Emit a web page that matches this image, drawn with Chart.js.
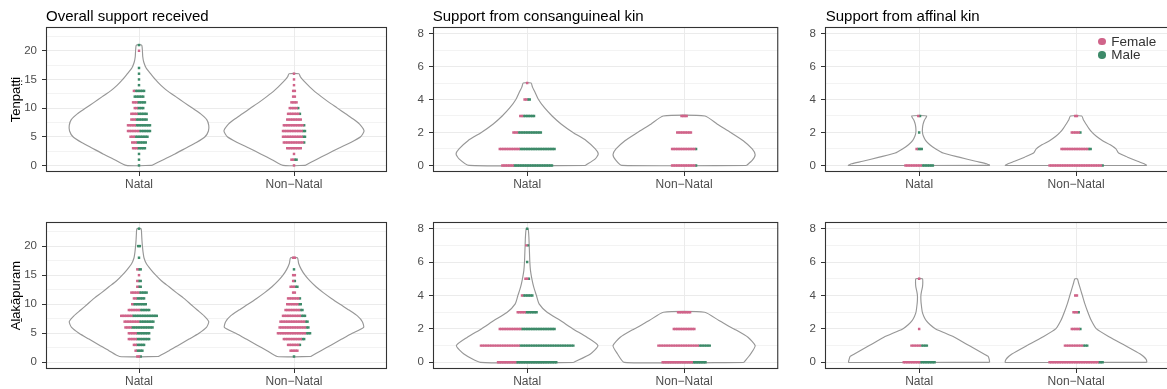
<!DOCTYPE html>
<html>
<head>
<meta charset="utf-8">
<script src="https://cdn.jsdelivr.net/npm/chart.js@4.4.1/dist/chart.umd.min.js"></script>
<style>
  html, body { margin: 0; padding: 0; background: #fff; overflow: hidden; }
  body { width: 1167px; height: 389px; position: relative; font-family: "Liberation Sans", Arial, Helvetica, sans-serif; }
  .panel { position: absolute; }
  .title { position: absolute; font-size: 15px; line-height: 17px; color: #000; white-space: nowrap; }
  .ylab { position: absolute; width: 160px; height: 15px; line-height: 15px; font-size: 13px; color: #000;
          text-align: center; white-space: nowrap; transform: rotate(-90deg); }
  .key { position: absolute; display: flex; align-items: center; font-size: 13.5px; line-height: 14px; color: #333; white-space: nowrap; }
  .key i { display: inline-block; width: 7.5px; height: 7.5px; border-radius: 50%; margin-right: 5.5px; }
</style>
</head>
<body>
<script>
const categories = ["Natal", "Non\u2212Natal"];
const rowNames = ["Tenpa\u1e6d\u1e6di", "A\u1e3bak\u0101puram"];
const panelTitles = ["Overall support received", "Support from consanguineal kin", "Support from affinal kin"];
const sexes = ["Female", "Male"];

// y tick labels and grid positions
const overallTicks = [0, 5, 10, 15, 20];
const overallGrid = [0, 2.5, 5, 7.5, 10, 12.5, 15, 17.5, 20, 22.5];
const kinTicks = [0, 2, 4, 6, 8];
const kinGrid = [0, 1, 2, 3, 4, 5, 6, 7, 8];

// number of people per support value (index = value), female / male
const tenOverallNatalF = [0, 0, 0, 3, 3, 3, 7, 5, 3, 4, 2, 3, 0, 1, 0, 0, 0, 0, 0, 0, 1, 0];
const tenOverallNatalM = [1, 1, 1, 5, 6, 8, 7, 9, 7, 6, 4, 5, 6, 6, 1, 1, 1, 1, 0, 0, 0, 1];
const tenOverallNonF = [1, 2, 1, 9, 12, 12, 12, 12, 9, 7, 5, 4, 2, 2, 1, 1, 1];
const tenOverallNonM = [0, 2, 0, 0, 1, 2, 2, 1, 0, 1, 1, 0, 0, 0, 0, 0, 0];
const alaOverallNatalF = [0, 2, 1, 2, 5, 5, 4, 9, 7, 7, 1, 2, 5, 1, 1, 1, 1, 0, 0, 0, 0, 0, 0, 0];
const alaOverallNatalM = [0, 1, 4, 5, 8, 8, 13, 9, 15, 6, 8, 5, 5, 2, 2, 0, 2, 0, 1, 0, 2, 0, 0, 1];
const alaOverallNonF = [0, 0, 5, 7, 11, 17, 16, 15, 11, 9, 7, 7, 2, 3, 1, 2, 0, 0, 2];
const alaOverallNonM = [0, 1, 0, 1, 2, 3, 2, 2, 3, 2, 2, 1, 0, 2, 1, 0, 1, 0, 0];

const tenConsNatalF = [7, 12, 3, 2, 2, 1];
const tenConsNatalM = [23, 21, 14, 7, 2, 0];
const tenConsNonF = [14, 14, 9, 4];
const tenConsNonM = [1, 1, 0, 0];
const alaConsNatalF = [11, 23, 13, 5, 1, 2, 0, 1, 0];
const alaConsNatalM = [24, 32, 20, 7, 6, 1, 1, 1, 1];
const alaConsNonF = [18, 24, 13, 8];
const alaConsNonM = [8, 7, 0, 0];

const tenAffNatalF = [10, 1, 0, 1];
const tenAffNatalM = [7, 3, 1, 1];
const tenAffNonF = [31, 16, 5, 2];
const tenAffNonM = [1, 2, 1, 0];
const alaAffNatalF = [10, 6, 1, 0, 0, 1];
const alaAffNatalM = [9, 4, 0, 0, 0, 0];
const alaAffNonF = [29, 11, 5, 3, 2];
const alaAffNonM = [3, 3, 1, 1, 0];

// violin outlines: [value, half width]
const tenOverallNatalViolin = [[0,0.082],[1,0.157],[2,0.232],[3,0.301],[4,0.37],[5,0.426],[6,0.448],[7,0.45],[8,0.437],[9,0.398],[10,0.344],[11,0.29],[12,0.237],[13,0.183],[14,0.14],[15,0.105],[16,0.075],[17,0.046],[18,0.031],[19,0.024],[20,0.022],[21,0.017]];
const tenOverallNonViolin = [[0,0.071],[1,0.142],[2,0.215],[3,0.288],[4,0.366],[5,0.43],[6,0.452],[7,0.43],[8,0.387],[9,0.333],[10,0.28],[11,0.226],[12,0.176],[13,0.129],[14,0.09],[15,0.054],[15.5,0.04],[16,0.032]];
const alaOverallNatalViolin = [[1,0.125],[2,0.194],[3,0.258],[4,0.323],[5,0.387],[6,0.435],[7,0.45],[8,0.42],[9,0.376],[10,0.333],[11,0.29],[12,0.241],[13,0.194],[14,0.146],[15,0.108],[16,0.075],[17,0.047],[18,0.032],[19,0.026],[20,0.022],[21,0.019],[22,0.017],[23,0.013]];
const alaOverallNonViolin = [[1,0.108],[2,0.174],[3,0.241],[4,0.308],[5,0.376],[6,0.449],[7,0.441],[8,0.409],[9,0.355],[10,0.297],[11,0.241],[12,0.189],[13,0.142],[14,0.103],[15,0.071],[16,0.047],[17,0.03],[18,0.022]];
const tenConsNatalViolin = [[0,0.371],[0.4,0.434],[0.7,0.453],[1,0.434],[1.5,0.377],[2,0.292],[2.5,0.218],[3,0.159],[3.5,0.11],[4,0.072],[4.5,0.047],[4.75,0.034],[5,0.025]];
const tenConsNonViolin = [[0,0.398],[0.3,0.434],[0.65,0.453],[1,0.434],[1.5,0.377],[2,0.297],[2.5,0.212],[3,0.133]];
const alaConsNatalViolin = [[0,0.297],[0.5,0.403],[1,0.451],[1.5,0.381],[2,0.292],[2.5,0.212],[3,0.127],[3.5,0.076],[4,0.059],[4.5,0.042],[5,0.03],[5.5,0.021],[6,0.017],[6.5,0.015],[7,0.013],[7.5,0.011],[8,0.006]];
const alaConsNonViolin = [[0,0.381],[0.5,0.424],[1,0.453],[1.5,0.407],[2,0.318],[2.5,0.222],[3,0.131]];
const tenAffNatalViolin = [[0,0.451],[0.1,0.43],[0.25,0.36],[0.5,0.254],[0.75,0.153],[1,0.106],[1.25,0.068],[1.5,0.042],[1.75,0.028],[2,0.021],[2.25,0.021],[2.5,0.025],[2.75,0.034],[3,0.047]];
const tenAffNonViolin = [[0,0.451],[0.1,0.434],[0.25,0.392],[0.5,0.328],[0.75,0.271],[1,0.254],[1.25,0.218],[1.5,0.169],[1.75,0.131],[2,0.102],[2.25,0.081],[2.5,0.064],[2.75,0.047],[3,0.036]];
const alaAffNatalViolin = [[0,0.449],[0.15,0.447],[0.35,0.44],[0.5,0.413],[1,0.318],[1.5,0.225],[2,0.105],[2.25,0.07],[2.5,0.045],[2.75,0.03],[3,0.02],[3.5,0.013],[3.75,0.011],[4,0.011],[4.25,0.015],[4.5,0.021],[4.75,0.023],[5,0.021]];
const alaAffNonViolin = [[0,0.451],[0.15,0.448],[0.35,0.43],[0.5,0.409],[1,0.314],[1.5,0.216],[2,0.13],[2.5,0.097],[3,0.075],[3.5,0.056],[4,0.04],[4.5,0.024],[4.75,0.016],[5,0.008]];

const FONT = '"Liberation Sans", Arial, Helvetica, sans-serif';
const FEMALE = "#D0648A";
const MALE = "#3D8A69";
const DOT = 0.0109; // one dot, in category units

// page geometry (canvas box and plot box of each column/row)
const colCanvas = [[0, 390], [390, 390], [780, 392]];
const colPlot = [[46, 387], [433, 779], [825, 1172]];
const rowCanvas = [[0, 195], [195, 194]];
const rowPlot = [[27, 172], [222, 369]];

const panels = [
  { row: 0, col: 0, natal: [tenOverallNatalF, tenOverallNatalM, tenOverallNatalViolin], non: [tenOverallNonF, tenOverallNonM, tenOverallNonViolin] },
  { row: 0, col: 1, natal: [tenConsNatalF, tenConsNatalM, tenConsNatalViolin], non: [tenConsNonF, tenConsNonM, tenConsNonViolin] },
  { row: 0, col: 2, natal: [tenAffNatalF, tenAffNatalM, tenAffNatalViolin], non: [tenAffNonF, tenAffNonM, tenAffNonViolin] },
  { row: 1, col: 0, natal: [alaOverallNatalF, alaOverallNatalM, alaOverallNatalViolin], non: [alaOverallNonF, alaOverallNonM, alaOverallNonViolin] },
  { row: 1, col: 1, natal: [alaConsNatalF, alaConsNatalM, alaConsNatalViolin], non: [alaConsNonF, alaConsNonM, alaConsNonViolin] },
  { row: 1, col: 2, natal: [alaAffNatalF, alaAffNatalM, alaAffNatalViolin], non: [alaAffNonF, alaAffNonM, alaAffNonViolin] },
];

// dotplot rows: centred on the category, females first then males
function stackRows(center, female, male) {
  const f = [], m = [];
  for (let v = 0; v < Math.max(female.length, male.length); v++) {
    const nf = female[v] || 0, nm = male[v] || 0, tot = nf + nm;
    for (let i = 0; i < tot; i++) {
      const pt = { x: center + (i - (tot - 1) / 2) * DOT, y: v };
      (i < nf ? f : m).push(pt);
    }
  }
  return { f, m };
}

function outline(center, shape) {
  const right = shape.map(([y, w]) => ({ x: center + w, y }));
  const left = shape.slice().reverse().map(([y, w]) => ({ x: center - w, y }));
  return right.concat(left, [right[0]]);
}

const violinFill = {
  id: "violinFill",
  beforeDatasetsDraw(chart) {
    const ctx = chart.ctx;
    chart.data.datasets.forEach((ds, i) => {
      if (!ds.violin) return;
      const pts = chart.getDatasetMeta(i).data;
      ctx.save();
      ctx.beginPath();
      pts.forEach((p, k) => (k ? ctx.lineTo(p.x, p.y) : ctx.moveTo(p.x, p.y)));
      ctx.closePath();
      ctx.fillStyle = "#fff";
      ctx.fill();
      ctx.restore();
    });
  },
};

const panelBorder = {
  id: "panelBorder",
  afterDatasetsDraw(chart) {
    const { ctx, chartArea: a } = chart;
    ctx.save();
    ctx.strokeStyle = "#333";
    ctx.lineWidth = 1.1;
    ctx.strokeRect(a.left + 0.5, a.top + 0.5, a.right - a.left - 1, a.bottom - a.top - 1);
    ctx.restore();
  },
};

function makePanel(p) {
  const [cl, cw] = colCanvas[p.col];
  const [ct, ch] = rowCanvas[p.row];
  const [pl, pr] = colPlot[p.col];
  const [pt, pb] = rowPlot[p.row];
  const overall = p.col === 0;
  const grid = overall ? overallGrid : kinGrid;
  const labelled = overall ? overallTicks : kinTicks;
  const yMin = overall ? -1.15 : -0.4;
  const yMax = overall ? 24.15 : 8.4;

  const box = document.createElement("div");
  box.className = "panel";
  box.style.left = cl + "px";
  box.style.top = ct + "px";
  const canvas = document.createElement("canvas");
  canvas.width = cw;
  canvas.height = ch;
  canvas.style.width = cw + "px";
  canvas.style.height = ch + "px";
  box.appendChild(canvas);
  document.body.appendChild(box);

  const a = stackRows(1, p.natal[0], p.natal[1]);
  const b = stackRows(2, p.non[0], p.non[1]);
  // square dots overlap into solid strips, as the stacked dots do in the reference
  const dots = (data, color) => ({
    data, pointStyle: "rect", pointRadius: 1.75, pointHoverRadius: 0, pointBorderWidth: 0,
    pointBackgroundColor: color, backgroundColor: color, order: 0,
  });
  const violin = (data) => ({
    data, violin: true, showLine: true, borderColor: "#979797", borderWidth: 1.15,
    pointRadius: 0, pointHoverRadius: 0, fill: false, tension: 0.2, order: 1,
  });

  new Chart(canvas, {
    type: "scatter",
    data: {
      datasets: [
        dots(a.f, FEMALE), dots(a.m, MALE), dots(b.f, FEMALE), dots(b.m, MALE),
        violin(outline(1, p.natal[2])), violin(outline(2, p.non[2])),
      ],
    },
    options: {
      responsive: false,
      animation: false,
      events: [],
      layout: { padding: { left: 0, top: pt - ct, right: cl + cw - pr, bottom: 0 } },
      plugins: { legend: { display: false }, tooltip: { enabled: false } },
      scales: {
        x: {
          type: "linear", min: 0.4, max: 2.6,
          afterBuildTicks: (s) => { s.ticks = [{ value: 1 }, { value: 2 }]; },
          afterFit: (s) => { s.height = ct + ch - pb; s.paddingLeft = 0; s.paddingRight = 0; },
          ticks: { callback: (v, i) => categories[i], color: "#4D4D4D", font: { family: FONT, size: 12 },
                   padding: 1, autoSkip: false, maxRotation: 0 },
          grid: { color: "#EBEBEB", lineWidth: 1, tickColor: "#333", tickLength: 4, tickWidth: 1 },
          border: { display: false },
        },
        y: {
          type: "linear", min: yMin, max: yMax,
          afterBuildTicks: (s) => { s.ticks = grid.map((v) => ({ value: v })); },
          afterFit: (s) => { s.width = pl - cl; s.paddingTop = 0; s.paddingBottom = 0; },
          ticks: { callback: (v) => (labelled.includes(v) ? String(v) : ""), color: "#4D4D4D",
                   font: { family: FONT, size: 11.5 }, padding: 5, autoSkip: false },
          grid: {
            color: "#EBEBEB",
            lineWidth: (c) => (c.tick && labelled.includes(c.tick.value) ? 1 : 0.6),
            tickColor: (c) => (c.tick && labelled.includes(c.tick.value) ? "#333" : "rgba(0,0,0,0)"),
            tickLength: 4, tickWidth: 1,
          },
          border: { display: false },
        },
      },
    },
    plugins: [violinFill, panelBorder],
  });
}

panels.forEach(makePanel);

// panel titles above the top row
panelTitles.forEach((t, i) => {
  const d = document.createElement("div");
  d.className = "title";
  d.textContent = t;
  d.style.left = [46, 432.7, 825.7][i] + "px";
  d.style.top = "6.8px";
  document.body.appendChild(d);
});

// village names as row labels
rowNames.forEach((t, i) => {
  const d = document.createElement("div");
  d.className = "ylab";
  d.textContent = t;
  const cy = (rowPlot[i][0] + rowPlot[i][1]) / 2;
  d.style.left = (15.1 - 80) + "px";
  d.style.top = (cy - 7.5) + "px";
  document.body.appendChild(d);
});

// legend inside the top right panel
sexes.forEach((s, i) => {
  const d = document.createElement("div");
  d.className = "key";
  d.style.left = "1098.3px";
  d.style.top = (41.7 + i * 13.4 - 7) + "px";
  const dot = document.createElement("i");
  dot.style.background = i === 0 ? FEMALE : MALE;
  d.appendChild(dot);
  d.appendChild(document.createTextNode(s));
  document.body.appendChild(d);
});
</script>
</body>
</html>
